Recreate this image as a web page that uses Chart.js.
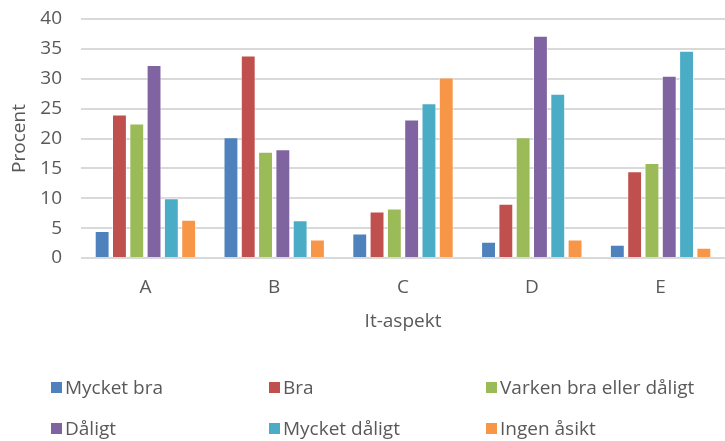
<!DOCTYPE html>
<html>
<head>
<meta charset="utf-8">
<script src="https://cdn.jsdelivr.net/npm/chart.js@4"></script>
<style>
  html, body { margin: 0; padding: 0; background: #fff; }
  #wrap { width: 725px; height: 441px; position: relative; }
</style>
</head>
<body>
<div id="wrap"><canvas id="chart"></canvas></div>
<script>
// kategorier och serier
const categories = ['A', 'B', 'C', 'D', 'E'];
const seriesNames = ['Mycket bra', 'Bra', 'Varken bra eller dåligt', 'Dåligt', 'Mycket dåligt', 'Ingen åsikt'];
const seriesColors = ['#4F81BD', '#C0504D', '#9BBB59', '#8064A2', '#4BACC6', '#F79646'];

const mycketBra = [4.5, 20.2, 4.1, 2.7, 2.2];
const bra = [24.0, 33.9, 7.8, 9.1, 14.5];
const varken = [22.5, 17.8, 8.3, 20.2, 15.9];
const daligt = [32.3, 18.2, 23.2, 37.2, 30.5];
const mycketDaligt = [10.0, 6.3, 25.9, 27.5, 34.7];
const ingenAsikt = [6.4, 3.1, 30.2, 3.1, 1.7];

const yTicks = [0, 5, 10, 15, 20, 25, 30, 35, 40];

const allSeries = [mycketBra, bra, varken, daligt, mycketDaligt, ingenAsikt];
const textColor = '#595959';
const fontFamily = '"Open Sans", "Liberation Sans", sans-serif';
const fontSize = 19;

// egen legend i tre kolumner under diagrammet
const gridLegend = {
  id: 'gridLegend',
  afterDraw(chart) {
    const ctx = chart.ctx;
    const colX = [51, 269, 486];
    const rowY = [chart.height - 52, chart.height - 11];
    ctx.save();
    ctx.font = fontSize + 'px ' + fontFamily;
    ctx.textBaseline = 'middle';
    ctx.textAlign = 'left';
    seriesNames.forEach((name, i) => {
      const x = colX[i % 3];
      const y = rowY[Math.floor(i / 3)];
      ctx.fillStyle = seriesColors[i];
      ctx.fillRect(x, y - 7, 11, 11);
      ctx.fillStyle = textColor;
      ctx.fillText(name, x + 14, y);
    });
    ctx.restore();
  }
};

new Chart(document.getElementById('chart'), {
  type: 'bar',
  data: {
    labels: categories,
    datasets: seriesNames.map((name, i) => ({
      label: name,
      data: allSeries[i],
      backgroundColor: seriesColors[i],
      borderColor: 'rgba(255,255,255,0.55)',
      borderWidth: 1,
      categoryPercentage: 0.806,
      barPercentage: 0.86
    }))
  },
  options: {
    responsive: true,
    maintainAspectRatio: false,
    animation: false,
    layout: { padding: { top: 19, right: 0, left: 0, bottom: 104 } },
    plugins: {
      legend: { display: false },
      tooltip: { enabled: false }
    },
    scales: {
      x: {
        afterFit(scale) { scale.height = 79; },
        grid: { display: false, drawTicks: false },
        border: { display: false },
        ticks: { color: textColor, font: { family: fontFamily, size: fontSize }, padding: 18 },
        title: {
          display: true,
          text: 'It-aspekt',
          color: textColor,
          font: { family: fontFamily, size: fontSize },
          padding: { top: 14, bottom: 4 }
        }
      },
      y: {
        min: 0,
        max: 40,
        afterFit(scale) {
          scale.width = 81;
          scale.paddingTop = 0;
          scale.paddingBottom = 0;
        },
        afterBuildTicks(scale) { scale.ticks = yTicks.map(v => ({ value: v })); },
        grid: { color: '#d9d9d9', lineWidth: 2, drawTicks: false },
        border: { display: false },
        ticks: { color: textColor, font: { family: fontFamily, size: fontSize }, padding: 19 },
        title: {
          display: true,
          text: 'Procent',
          color: textColor,
          font: { family: fontFamily, size: fontSize },
          padding: { top: 8, bottom: 0 }
        }
      }
    }
  },
  plugins: [gridLegend]
});
</script>
</body>
</html>
